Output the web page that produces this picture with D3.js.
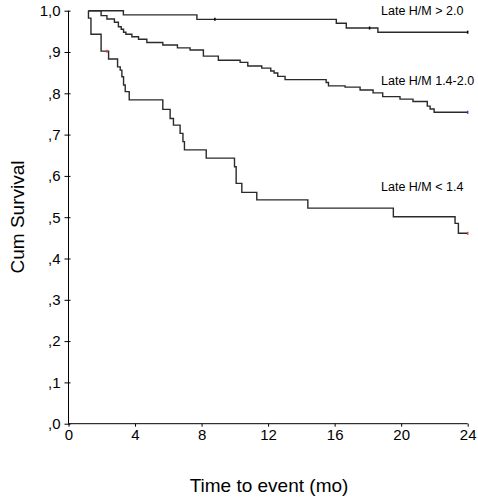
<!DOCTYPE html>
<html><head><meta charset="utf-8">
<script src="https://cdn.jsdelivr.net/npm/d3@7"></script>
<style>body{margin:0;background:#fff}svg{display:block}text{font-family:"Liberation Sans",Arial,sans-serif;fill:#000}</style>
</head><body>
<script>
// Data
const xTicks = [0, 4, 8, 12, 16, 20, 24];
const yTicks = [0, .1, .2, .3, .4, .5, .6, .7, .8, .9, 1];

const highTimes = [1.2, 3.3, 7.72, 16.1, 16.7, 18.6, 24];
const highSurv  = [1.0, 0.990, 0.979, 0.9695, 0.958, 0.948, 0.948];
const highCensT = [8.8, 18.1, 24];
const highCensS = [0.979, 0.958, 0.948];

const midTimes = [1.2, 1.96, 2.31, 2.76, 3.0, 3.17, 3.31, 3.45, 3.81, 4.21, 4.71, 5.67, 6.55, 7.31, 8.11, 9.01, 10.32, 10.78, 11.62, 12.16, 12.36, 12.58, 13.02, 15.49, 15.63, 16.63, 17.53, 18.31, 18.89, 19.93, 20.71, 21.57, 21.74, 21.98, 24];
const midSurv  = [1.0, 0.988, 0.980, 0.972, 0.961, 0.955, 0.948, 0.943, 0.937, 0.931, 0.923, 0.917, 0.910, 0.905, 0.890, 0.880, 0.875, 0.866, 0.861, 0.854, 0.849, 0.841, 0.833, 0.826, 0.818, 0.815, 0.808, 0.801, 0.792, 0.786, 0.780, 0.769, 0.762, 0.754, 0.754];
const midCensT = [24];
const midCensS = [0.754];

const lowTimes = [1.2, 1.35, 1.96, 2.41, 2.95, 3.11, 3.21, 3.31, 3.41, 3.65, 5.67, 6.11, 6.31, 6.71, 6.88, 6.97, 8.28, 9.98, 10.08, 10.42, 11.32, 14.39, 19.53, 23.24, 23.44, 24];
const lowSurv  = [0.982, 0.943, 0.902, 0.883, 0.864, 0.856, 0.840, 0.820, 0.804, 0.784, 0.761, 0.739, 0.723, 0.703, 0.683, 0.663, 0.643, 0.622, 0.582, 0.560, 0.542, 0.522, 0.501, 0.485, 0.461, 0.461];
const lowCensT = [2.31, 24];
const lowCensS = [0.902, 0.461];

const seriesNames = ["Late H/M > 2.0", "Late H/M 1.4-2.0", "Late H/M < 1.4"];

const W = 478, H = 498;
const svg = d3.select("body").append("svg").attr("width", W).attr("height", H);
const x = d3.scaleLinear().domain([0, 24]).range([68.5, 467.7]);
const y = d3.scaleLinear().domain([0, 1]).range([423.7, 10.7]);

// axes
const gx = svg.append("g").attr("transform", `translate(0,${y(0)})`)
  .call(d3.axisBottom(x).tickValues(xTicks).tickSize(3).tickPadding(3).tickFormat(d3.format("d")));
gx.selectAll("text").style("font-size", "15px");
const gy = svg.append("g").attr("transform", `translate(${x(0)},0)`)
  .call(d3.axisLeft(y).tickValues(yTicks).tickSize(5).tickPadding(3)
    .tickFormat(d => d === 1 ? "1,0" : "," + Math.round(d * 10)));
gy.selectAll("text").style("font-size", "15px");
gy.selectAll(".tick line").attr("x2", 2).attr("x1", -4);
[gx, gy].forEach(g => { g.select(".domain").attr("stroke", "#000"); g.selectAll(".tick line").attr("stroke", "#000"); });
gx.select(".domain").attr("d", `M${x(0)},0H${x(24)}`);
gy.select(".domain").attr("d", `M0,${y(0)}V${y(1)}`);

// curves
const line = d3.line().x(d => x(d[0])).y(d => y(d[1])).curve(d3.curveStepAfter);
const series = [
  {t: highTimes, s: highSurv, ct: highCensT, cs: highCensS, cc: ["#000", "#000", "#000"]},
  {t: midTimes, s: midSurv, ct: midCensT, cs: midCensS, cc: ["#3344bb"]},
  {t: lowTimes, s: lowSurv, ct: lowCensT, cs: lowCensS, cc: ["#e04040", "#e04040"]}
];
series.forEach(se => {
  const pts = [[se.t[0], 1.0]];
  se.t.forEach((t, i) => pts.push([t, se.s[i]]));
  svg.append("path").attr("d", line(pts)).attr("fill", "none").attr("stroke", "#2a2a2a").attr("stroke-width", 1.4);
  se.ct.forEach((t, i) => {
    svg.append("line").attr("x1", x(t)).attr("x2", x(t)).attr("y1", y(se.cs[i]) - 1.5).attr("y2", y(se.cs[i]) + 1.5)
      .attr("stroke", se.cc[i]).attr("stroke-width", 1.5);
  });
});

// labels
const labY = [10, 80, 186];
seriesNames.forEach((n, i) => {
  svg.append("text").attr("x", 381).attr("y", labY[i] + 4.5).style("font-size", "12.5px").text(n);
});

svg.append("text").attr("transform", "translate(24,217) rotate(-90)").attr("text-anchor", "middle")
  .style("font-size", "19px").text("Cum Survival");
svg.append("text").attr("x", 269).attr("y", 492).attr("text-anchor", "middle")
  .style("font-size", "19px").text("Time to event (mo)");
</script>
</body></html>
